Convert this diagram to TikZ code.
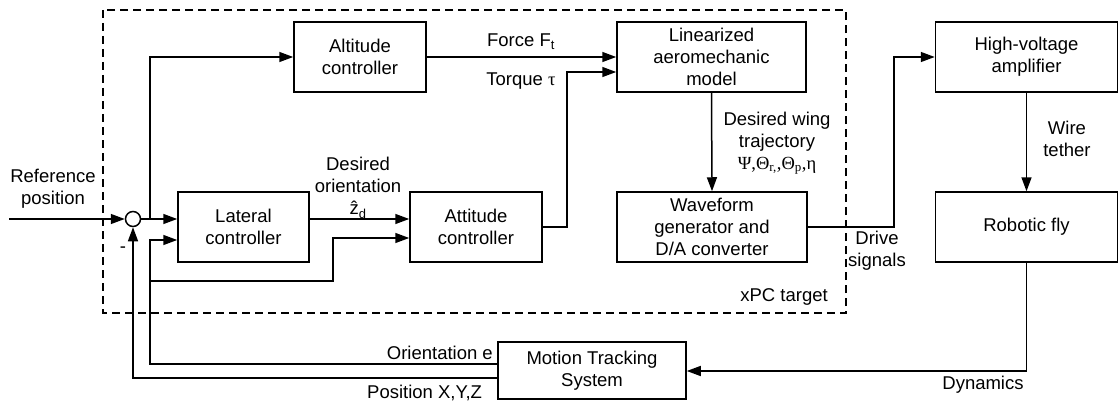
\documentclass[tikz,border=0pt]{standalone}
\usepackage{fontspec}
\setmainfont{Liberation Sans}
\newfontfamily\grk{Liberation Serif}
\usetikzlibrary{arrows.meta,calc}
\begin{document}
\begin{tikzpicture}[x=1pt,y=-1pt,
  every node/.style={font=\fontsize{18.5}{22}\selectfont},
  blk/.style={draw,line width=1.5pt,inner sep=0pt,align=center,minimum width=#1},
  blk/.default=132pt,
  conn/.style={line width=1.5pt},
  arr/.style={conn,-{Triangle[length=14pt,width=10pt]}},
  lbl/.style={inner sep=0pt,align=center},
  frame/.style={line width=1.3pt,dash pattern=on 8pt off 5pt}]
\useasboundingbox (0,0) rectangle (1120,404);
% frame
\draw[frame] (103,10) rectangle (846,313);
% blocks
\node[blk=132pt,minimum height=70pt] (alt) at (360,57) {Altitude\\controller};
\node[blk=189pt,minimum height=70pt] (lin) at (711.5,57) {Linearized\\aeromechanic\\model};
\node[blk=131pt,minimum height=70pt] (lat) at (243.5,227) {Lateral\\controller};
\node[blk=132pt,minimum height=70pt] (att) at (476,227) {Attitude\\controller};
\node[blk=190pt,minimum height=70pt] (wav) at (712,227) {Waveform\\generator and\\D/A converter};
\node[blk=182pt,minimum height=70pt] (hv) at (1026.5,57) {High-voltage\\amplifier};
\node[blk=182pt,minimum height=70pt] (fly) at (1026.5,227) {Robotic fly};
\node[blk=188pt,minimum height=57pt] (mts) at (592,370.5) {Motion Tracking\\System};
\node[draw,circle,line width=1.5pt,minimum size=15pt,inner sep=0pt] (sum) at (133,219) {};
% coordinates
\coordinate (in) at (9,219);
\coordinate (br) at (150,219);
\coordinate (fb) at (150,240);
\coordinate (fa) at (150,281);
\coordinate (fa2) at (333,281);
\coordinate (tq) at (567,227);
\coordinate (ds) at (894,227);
\coordinate (dy) at (1026.5,371);
% connectors
\draw[arr] (in) -- (sum.west);
\draw[arr] (sum.east) -- (sum.east -| lat.west);
\draw[arr] (br) |- (alt.west);
\draw[arr] (alt.east) -- (lin.west);
\draw[arr] (lat.east |- 0,219) -- (att.west |- 0,219);
\draw[arr] (att.east) -| (tq) |- (lin.west |- 0,72);
\draw[arr] (lin.south) -- (wav.north);
\draw[arr] (wav.east) -- (ds) |- (hv.west);
\draw[arr] (hv.south) -- (fly.north);
\draw[arr] (fly.south) -- (dy) -- (mts.east |- dy);
\draw[arr] (mts.west |- 0,378) -| (sum.south);
\draw[arr] (mts.west |- 0,364) -| (fb) -- (fb -| lat.west);
\draw[arr] (fa) -- (fa2) |- (att.west |- 0,238);
% labels
\node[lbl] (lref) at (53,189) {Reference\\position};
\node[lbl] (lminus) at (123,250) {-};
\node[lbl,anchor=base] (lforce) at (521,47) {Force F\textsubscript{t}};
\node[lbl,anchor=base] (ltorque) at (521,85) {Torque {\grk τ}};
\node[lbl] (lorient) at (358,188) {Desired\\orientation\\\^z\textsubscript{d}};
\node[lbl] (lwing) at (777,143) {Desired wing\\trajectory\\{\grk Ψ,Θ\textsubscript{r,},Θ\textsubscript{p},η}};
\node[lbl] (lwire) at (1067,139) {Wire\\tether};
\node[lbl] (ldrive) at (877,251) {Drive\\signals};
\node[lbl,anchor=base east] (lxpc) at (828,301) {xPC target};
\node[lbl,anchor=base east] (lorie) at (493,359) {Orientation e};
\node[lbl,anchor=base west] (lpos) at (367,398) {Position X,Y,Z};
\node[lbl,anchor=base] (ldyn) at (983,389) {Dynamics};
\end{tikzpicture}
\end{document}
